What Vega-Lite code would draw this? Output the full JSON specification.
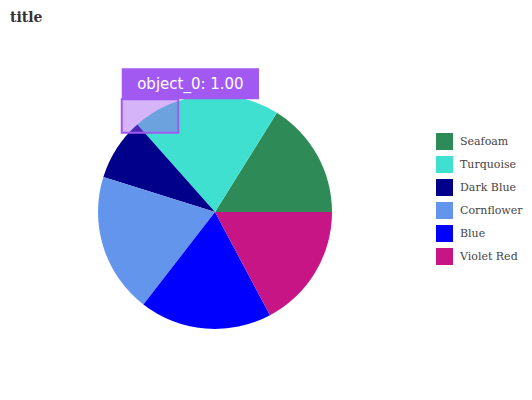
{
  "$schema": "https://vega.github.io/schema/vega-lite/v6.json",
  "width": 430,
  "height": 364,
  "autosize": {"type": "none"},
  "padding": {"left": 0, "top": 30, "right": 102, "bottom": 6},
  "background": "white",
  "title": {"text": "title", "anchor": "start", "frame": "group", "dx": 10, "offset": 5, "font": "DejaVu Serif", "fontSize": 14, "fontWeight": "bold", "color": "#333333"},
  "datasets": {
    "slices": [
      {"category": "Seafoam", "value": 15, "idx": 1},
      {"category": "Turquoise", "value": 19, "idx": 2},
      {"category": "Dark Blue", "value": 8, "idx": 3},
      {"category": "Cornflower", "value": 18, "idx": 4},
      {"category": "Blue", "value": 17, "idx": 5},
      {"category": "Violet Red", "value": 16, "idx": 6}
    ],
    "annotation": [
      {"label": "object_0: 1.00", "bx": -0.797, "bx2": -0.314, "by": 0.963, "by2": 0.678, "lx": -0.797, "lx2": 0.376, "ly": 1.228, "ly2": 0.963, "tx": -0.21, "ty": 1.096}
    ]
  },
  "config": {"view": {"stroke": null}},
  "layer": [
    {
      "data": {"name": "slices"},
      "mark": {"type": "arc", "outerRadius": 117},
      "encoding": {
        "theta": {"field": "value", "type": "quantitative", "stack": true, "scale": {"range": [1.5707963, -4.712389]}},
        "order": {"field": "idx", "type": "quantitative"},
        "color": {
          "field": "category", "type": "nominal",
          "scale": {"domain": ["Seafoam", "Turquoise", "Dark Blue", "Cornflower", "Blue", "Violet Red"], "range": ["#2E8B57", "#40E0D0", "#00008B", "#6495ED", "#0000FF", "#C71585"]},
          "legend": {"title": null, "orient": "none", "legendX": 436, "legendY": 103, "symbolType": "square", "symbolSize": 289, "symbolStrokeWidth": 0, "symbolOpacity": 1, "rowPadding": 6, "labelOffset": 7, "labelFont": "DejaVu Serif", "labelFontSize": 11, "labelColor": "#444444"}
        }
      }
    },
    {
      "data": {"name": "annotation"},
      "mark": {"type": "rect", "fill": "#a259f2", "fillOpacity": 0.45, "stroke": "#a259f2", "strokeWidth": 2},
      "encoding": {
        "x": {"field": "bx", "type": "quantitative", "scale": {"domain": [-1.8376, 1.8376]}, "axis": null},
        "x2": {"field": "bx2"},
        "y": {"field": "by", "type": "quantitative", "scale": {"domain": [-1.5556, 1.5556]}, "axis": null},
        "y2": {"field": "by2"}
      }
    },
    {
      "data": {"name": "annotation"},
      "mark": {"type": "rect", "fill": "#a259f2"},
      "encoding": {
        "x": {"field": "lx", "type": "quantitative", "scale": {"domain": [-1.8376, 1.8376]}, "axis": null},
        "x2": {"field": "lx2"},
        "y": {"field": "ly", "type": "quantitative", "scale": {"domain": [-1.5556, 1.5556]}, "axis": null},
        "y2": {"field": "ly2"}
      }
    },
    {
      "data": {"name": "annotation"},
      "mark": {"type": "text", "color": "white", "font": "DejaVu Sans", "fontSize": 15, "align": "center", "baseline": "middle"},
      "encoding": {
        "x": {"field": "tx", "type": "quantitative", "scale": {"domain": [-1.8376, 1.8376]}, "axis": null},
        "y": {"field": "ty", "type": "quantitative", "scale": {"domain": [-1.5556, 1.5556]}, "axis": null},
        "text": {"field": "label"}
      }
    }
  ]
}
